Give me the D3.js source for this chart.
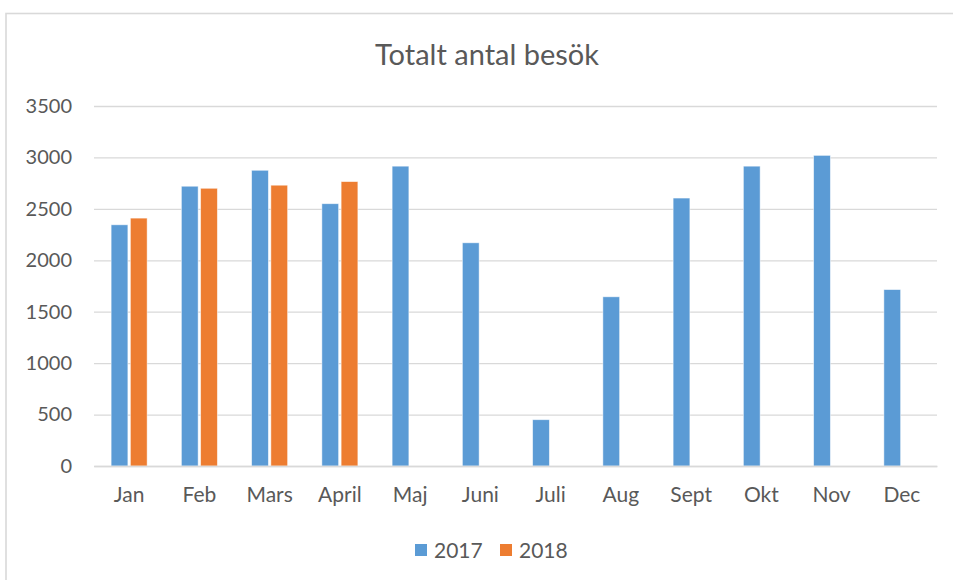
<!DOCTYPE html>
<html><head><meta charset="utf-8">
<script src="https://cdn.jsdelivr.net/npm/d3@7"></script>
<style>body{margin:0;background:#fff}svg{display:block}</style>
</head><body>
<svg id="c" width="953" height="580"></svg>
<script>
const months = ["Jan","Feb","Mars","April","Maj","Juni","Juli","Aug","Sept","Okt","Nov","Dec"];
const series = ["2017","2018"];
const values2017 = [2345,2720,2875,2550,2915,2170,450,1645,2605,2915,3020,1715];
const values2018 = [2410,2700,2730,2765,null,null,null,null,null,null,null,null];
const yTicks = [0,500,1000,1500,2000,2500,3000,3500];
const colors = ["#5B9BD5","#ED7D31"];

const svg = d3.select("#c");
const font = "Lato, 'Open Sans', sans-serif";
const txt = "#595959";
svg.append("rect").attr("x",6).attr("y",13.5).attr("width",970).attr("height",600)
  .attr("fill","#fff").attr("stroke","#d9d9d9").attr("stroke-width",1.6);

const x0 = d3.scaleBand().domain(months).range([94,937]).paddingInner(0).paddingOuter(0);
const y = d3.scaleLinear().domain([0,3500]).range([466,106]);
const x1 = d3.scaleBand().domain(series).range([-18,18]).paddingInner(0.13);

svg.append("text").attr("x",487).attr("y",65).attr("text-anchor","middle")
  .attr("font-family",font).attr("font-size",29).attr("fill",txt).text("Totalt antal besök");

const yAxis = d3.axisLeft(y).tickValues(yTicks).tickFormat(d3.format("d")).tickSize(-(937-94)).tickPadding(22);
const gy = svg.append("g").attr("transform","translate(94,0)").call(yAxis);
gy.select(".domain").remove();
gy.selectAll(".tick line").attr("stroke","#d9d9d9").attr("stroke-width",1.3);
gy.selectAll(".tick text").attr("font-family",font).attr("font-size",20).attr("fill",txt);

const data = months.map((m,i)=>({m, v:[values2017[i], values2018[i]]}));
const g = svg.append("g");
data.forEach(d=>{
  series.forEach((s,j)=>{
    const v = d.v[j];
    if(v==null) return;
    g.append("rect")
      .attr("x", x0(d.m)+x0.bandwidth()/2 + x1(s))
      .attr("y", y(v))
      .attr("width", x1.bandwidth())
      .attr("height", y(0)-y(v))
      .attr("fill", colors[j])
      .attr("stroke","rgba(255,255,255,0.6)").attr("stroke-width",0.8);
  });
});

const xAxis = d3.axisBottom(x0).tickSize(0).tickPadding(21);
const gx = svg.append("g").attr("transform","translate(0,466)").call(xAxis);
gx.select(".domain").attr("stroke","#d9d9d9").attr("stroke-width",1.3);
gx.selectAll(".tick text").attr("font-family",font).attr("font-size",21).attr("fill",txt);

const legend = svg.append("g");
const lx = [415,500];
series.forEach((s,j)=>{
  legend.append("rect").attr("x",lx[j]).attr("y",544).attr("width",12).attr("height",12).attr("fill",colors[j]);
  legend.append("text").attr("x",lx[j]+19).attr("y",558).attr("font-family",font).attr("font-size",21)
    .attr("fill",txt).text(s);
});
</script>
</body></html>
